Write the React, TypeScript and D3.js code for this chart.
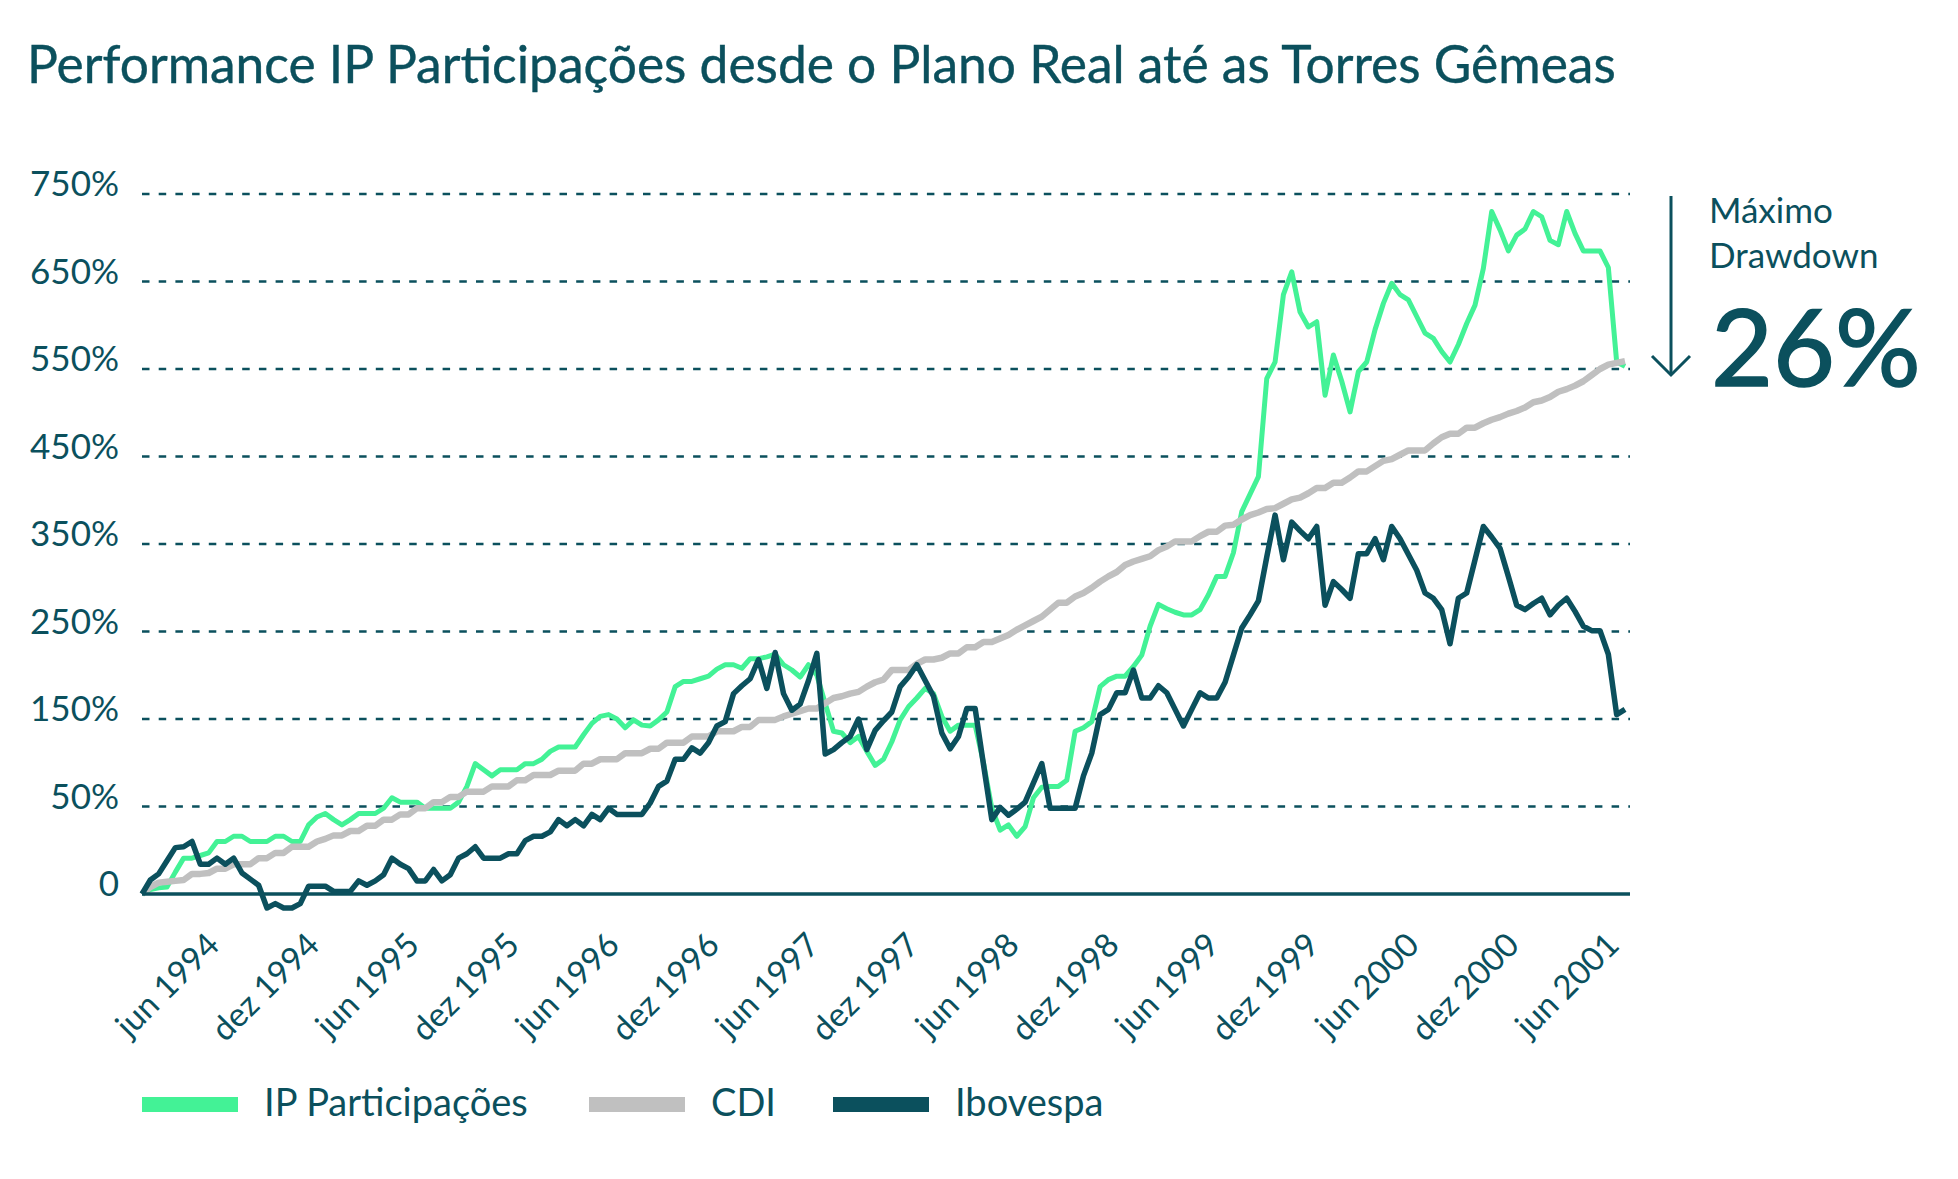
import { useEffect, useRef } from 'react';
import * as d3 from 'd3';

const title = 'Performance IP Participações desde o Plano Real até as Torres Gêmeas';
const seriesNames = ['IP Participações', 'CDI', 'Ibovespa'];
const annotationLines = ['Máximo', 'Drawdown'];
const annotationValue = '26%';

// gridlines are evenly spaced; the picture labels them like this
const yTickValues = [0, 100, 200, 300, 400, 500, 600, 700, 800];
const yTickLabels = ['0', '50%', '150%', '250%', '350%', '450%', '550%', '650%', '750%'];

const xTickIndex = [10, 22, 34, 46, 58, 70, 82, 94, 106, 118, 130, 142, 154, 166, 178];
const xTickLabels = [
  'jun 1994', 'dez 1994', 'jun 1995', 'dez 1995', 'jun 1996', 'dez 1996', 'jun 1997', 'dez 1997',
  'jun 1998', 'dez 1998', 'jun 1999', 'dez 1999', 'jun 2000', 'dez 2000', 'jun 2001',
];

// semi-monthly points
const ipParticipacoes = [
  0, 5, 7, 8, 25, 41, 41, 44, 47, 60, 60, 66, 66, 60, 60, 60, 66, 66, 60, 60,
  79, 88, 92, 85, 79, 85, 92, 92, 92, 98, 110, 105, 105, 105, 98, 98, 98, 98, 105, 123,
  149, 142, 135, 142, 142, 142, 149, 149, 154, 163, 168, 168, 168, 182, 195, 203, 205, 200, 190, 199,
  193, 192, 199, 208, 237, 243, 243, 246, 249, 257, 262, 262, 258, 269, 269, 271, 274, 262, 256, 248,
  262, 250, 218, 186, 184, 173, 180, 163, 147, 154, 174, 199, 214, 224, 235, 229, 203, 186, 193, 193,
  193, 150, 98, 73, 79, 66, 77, 110, 122, 123, 123, 130, 186, 190, 197, 237, 245, 249, 249, 260,
  273, 306, 331, 326, 322, 319, 319, 325, 342, 363, 363, 390, 437, 457, 477, 589, 608, 685, 711, 665,
  648, 654, 570, 616, 586, 551, 597, 608, 645, 675, 698, 685, 679, 660, 641, 635, 620, 608, 628, 652,
  673, 715, 780, 759, 735, 753, 760, 780, 774, 747, 742, 780, 755, 735, 735, 735, 716, 608, 603,
];

const cdi = [
  0, 8, 13, 14, 15, 16, 23, 23, 24, 29, 29, 34, 34, 34, 41, 41, 47, 47, 54, 54,
  54, 60, 63, 67, 67, 72, 72, 78, 78, 85, 85, 91, 91, 98, 98, 105, 105, 111, 111, 117,
  117, 117, 123, 123, 123, 130, 130, 136, 136, 136, 141, 141, 141, 149, 149, 154, 154, 154, 161, 161,
  161, 166, 166, 173, 173, 173, 180, 180, 180, 186, 186, 186, 191, 191, 199, 199, 199, 203, 206, 209,
  212, 212, 218, 224, 226, 229, 231, 237, 242, 245, 256, 256, 256, 263, 268, 268, 270, 275, 275, 282,
  282, 288, 288, 292, 296, 302, 307, 312, 317, 325, 333, 333, 340, 344, 350, 357, 363, 368, 376, 380,
  383, 386, 393, 397, 403, 403, 403, 409, 414, 414, 421, 422, 428, 433, 436, 440, 441, 446, 451, 453,
  458, 464, 464, 470, 470, 476, 483, 483, 489, 495, 497, 502, 507, 507, 507, 515, 522, 526, 526, 533,
  533, 538, 542, 545, 549, 552, 556, 562, 564, 568, 574, 577, 581, 586, 593, 600, 605, 607, 609,
];

const ibovespa = [
  0, 16, 23, 38, 53, 54, 60, 34, 34, 41, 34, 41, 24, 17, 10, -16, -11, -16, -16, -11,
  9, 9, 9, 3, 3, 3, 15, 10, 15, 22, 41, 34, 29, 15, 15, 28, 15, 22, 41, 46,
  54, 41, 41, 41, 46, 46, 61, 66, 66, 71, 85, 78, 85, 78, 91, 85, 98, 91, 91, 91,
  91, 104, 123, 129, 154, 154, 167, 161, 173, 192, 197, 229, 238, 246, 268, 235, 276, 229, 210, 217,
  244, 275, 160, 165, 173, 180, 200, 165, 187, 198, 208, 237, 248, 262, 244, 226, 184, 166, 180, 212,
  212, 148, 85, 99, 90, 97, 105, 127, 149, 98, 98, 98, 98, 135, 161, 205, 211, 230, 230, 256,
  224, 224, 238, 230, 211, 192, 211, 230, 224, 224, 242, 273, 304, 319, 335, 385, 433, 382, 425, 415,
  406, 420, 330, 357, 348, 338, 389, 389, 406, 382, 420, 406, 388, 370, 344, 338, 325, 286, 338, 344,
  382, 420, 408, 395, 363, 330, 325, 332, 338, 319, 330, 338, 323, 306, 301, 301, 274, 205, 211,
];

const teal = '#0b505d';
const green = '#43f296';
const gray = '#c0c0c0';
const font = 'Lato, sans-serif';

export default function App() {
  const svgRef = useRef<SVGSVGElement>(null);

  useEffect(() => {
    if (!svgRef.current) return;
    const svg = d3.select(svgRef.current);
    svg.selectAll('*').remove();

    const n = ibovespa.length;
    const x = d3.scaleLinear().domain([0, n - 1]).range([142, 1625]);
    const y = d3.scaleLinear().domain([0, 800]).range([894, 194]);
    const gridRight = 1630;

    svg.append('text')
      .attr('x', 27).attr('y', 83)
      .attr('font-family', font).attr('font-size', 51.5)
      .attr('fill', teal)
      .attr('stroke', teal).attr('stroke-width', 0.4)
      .text(title);

    // dashed gridlines
    svg.append('g')
      .selectAll('line')
      .data(yTickValues.filter(v => v > 0))
      .join('line')
      .attr('x1', x(0)).attr('x2', gridRight)
      .attr('y1', d => y(d)).attr('y2', d => y(d))
      .attr('stroke', teal)
      .attr('stroke-width', 2.4)
      .attr('stroke-dasharray', '7.5,9.2');

    // y labels
    svg.append('g')
      .selectAll('text')
      .data(yTickValues)
      .join('text')
      .attr('x', 119)
      .attr('y', d => y(d) + 2)
      .attr('text-anchor', 'end')
      .attr('font-family', font).attr('font-size', 35)
      .attr('fill', teal)
      .text((d, i) => yTickLabels[i]);

    // x labels
    svg.append('g')
      .selectAll('text')
      .data(xTickIndex)
      .join('text')
      .attr('transform', d => `translate(${x(d) - 4},947) rotate(-45)`)
      .attr('text-anchor', 'end')
      .attr('font-family', font).attr('font-size', 33)
      .attr('fill', teal)
      .text((d, i) => xTickLabels[i]);

    const line = d3.line<number>()
      .x((d, i) => x(i))
      .y(d => y(d))
      .curve(d3.curveLinear);

    const series = [
      { values: ipParticipacoes, color: green, width: 5 },
      { values: cdi, color: gray, width: 6.5 },
    ];
    series.forEach(s => {
      svg.append('path')
        .datum(s.values)
        .attr('fill', 'none')
        .attr('stroke', s.color)
        .attr('stroke-width', s.width)
        .attr('stroke-linejoin', 'round')
        .attr('d', line);
    });

    // zero axis
    svg.append('line')
      .attr('x1', x(0)).attr('x2', gridRight)
      .attr('y1', y(0)).attr('y2', y(0))
      .attr('stroke', teal)
      .attr('stroke-width', 3.5);

    svg.append('path')
      .datum(ibovespa)
      .attr('fill', 'none')
      .attr('stroke', teal)
      .attr('stroke-width', 5.5)
      .attr('stroke-linejoin', 'round')
      .attr('d', line);

    // drawdown annotation
    svg.append('line')
      .attr('x1', 1671).attr('x2', 1671)
      .attr('y1', y(800) + 2).attr('y2', 374)
      .attr('stroke', teal).attr('stroke-width', 3);
    svg.append('path')
      .attr('d', 'M1652,356 L1671,375 L1690,356')
      .attr('fill', 'none')
      .attr('stroke', teal).attr('stroke-width', 3);

    const note = svg.append('text')
      .attr('font-family', font).attr('font-size', 35)
      .attr('fill', teal);
    annotationLines.forEach((t, i) => {
      note.append('tspan')
        .attr('x', 1709)
        .attr('y', 223 + i * 45)
        .text(t);
    });

    svg.append('text')
      .attr('x', 1711).attr('y', 386)
      .attr('font-family', font).attr('font-size', 107)
      .attr('fill', teal)
      .attr('stroke', teal).attr('stroke-width', 1.6)
      .text(annotationValue);

    // legend
    const legendX = [142, 589, 833];
    const legendColors = [green, gray, teal];
    const legend = svg.append('g');
    seriesNames.forEach((name, i) => {
      legend.append('rect')
        .attr('x', legendX[i]).attr('y', 1097)
        .attr('width', 96).attr('height', 15)
        .attr('fill', legendColors[i]);
      legend.append('text')
        .attr('x', legendX[i] + 122).attr('y', 1116)
        .attr('font-family', font).attr('font-size', 38)
        .attr('fill', teal).text(name);
    });
  }, []);

  return (
    <svg
      ref={svgRef}
      width={1958}
      height={1179}
      style={{ position: 'absolute', left: 0, top: 0, background: '#fff' }}
    />
  );
}
